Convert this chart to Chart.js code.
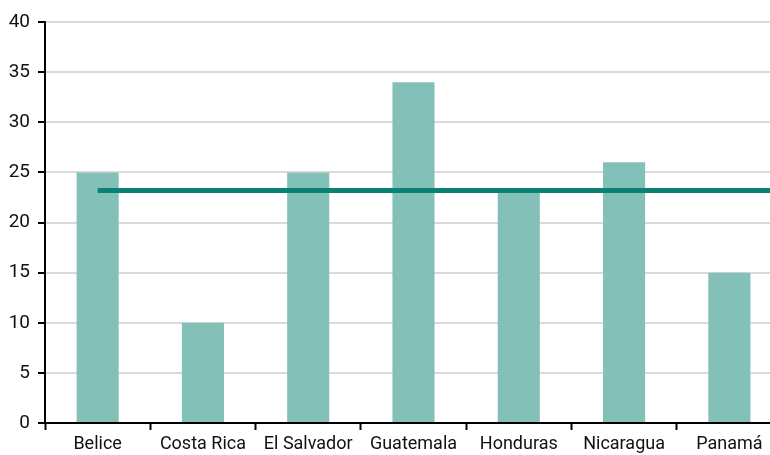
<!DOCTYPE html>
<html>
<head>
<meta charset="utf-8">
<script src="https://cdn.jsdelivr.net/npm/chart.js@4"></script>
<style>
  html, body { margin: 0; padding: 0; overflow: hidden; background: #fff; }
  #wrap { width: 782px; height: 470px; }
</style>
</head>
<body>
<div id="wrap"><canvas id="barChart"></canvas></div>
<script>
// Data
const countries = ['Belice', 'Costa Rica', 'El Salvador', 'Guatemala', 'Honduras', 'Nicaragua', 'Panamá'];
const values = [25, 10, 25, 34, 23, 26, 15];
const average = 23.2;
const yTicks = [0, 5, 10, 15, 20, 25, 30, 35, 40];

const fontFamily = "Roboto, 'Liberation Sans', sans-serif";

// average line: one point per country, then carried on to the right edge
const avgPoints = countries.map((c, i) => ({ x: i, y: average }));
avgPoints.push({ x: countries.length - 0.5, y: average });

const ctx = document.getElementById('barChart').getContext('2d');
const barChart = new Chart(ctx, {
    type: 'bar',
    data: {
        labels: countries,
        datasets: [{
            type: 'line',
            label: 'Promedio',
            data: avgPoints,
            xAxisID: 'xLine',
            borderColor: 'rgb(10, 130, 115)',
            borderWidth: 5,
            pointRadius: 0,
            tension: 0,
            order: 0
        }, {
            type: 'bar',
            label: 'Valor',
            data: values,
            xAxisID: 'x',
            backgroundColor: 'rgb(131, 193, 184)',
            categoryPercentage: 1,
            barPercentage: 0.4,
            grouped: false,
            order: 1
        }]
    },
    options: {
        responsive: true,
        maintainAspectRatio: false,
        animation: false,
        layout: {
            padding: { top: 22, right: 0, left: 0, bottom: 0 }
        },
        plugins: {
            legend: { display: false },
            tooltip: { enabled: false }
        },
        scales: {
            x: {
                type: 'category',
                offset: true,
                grid: {
                    offset: true,
                    drawOnChartArea: false,
                    drawTicks: true,
                    tickLength: 7,
                    tickColor: '#000',
                    tickWidth: 2
                },
                border: { color: '#000', width: 2 },
                ticks: {
                    color: '#111',
                    padding: 4,
                    maxRotation: 0,
                    autoSkip: false,
                    font: { family: fontFamily, size: 18 }
                },
                afterFit: (scale) => { scale.height = 47; }
            },
            xLine: {
                type: 'linear',
                display: false,
                offset: false,
                min: -0.5,
                max: countries.length - 0.5
            },
            y: {
                min: 0,
                max: 40,
                afterBuildTicks: (scale) => {
                    scale.ticks = yTicks.map(v => ({ value: v }));
                },
                grid: {
                    color: '#dadada',
                    lineWidth: 2,
                    drawTicks: true,
                    tickLength: 7,
                    tickColor: '#000',
                    tickWidth: 2
                },
                border: { color: '#000', width: 2 },
                ticks: {
                    color: '#111',
                    padding: 8,
                    font: { family: fontFamily, size: 19 }
                },
                afterFit: (scale) => { scale.width = 45; }
            }
        }
    }
});
</script>
</body>
</html>
